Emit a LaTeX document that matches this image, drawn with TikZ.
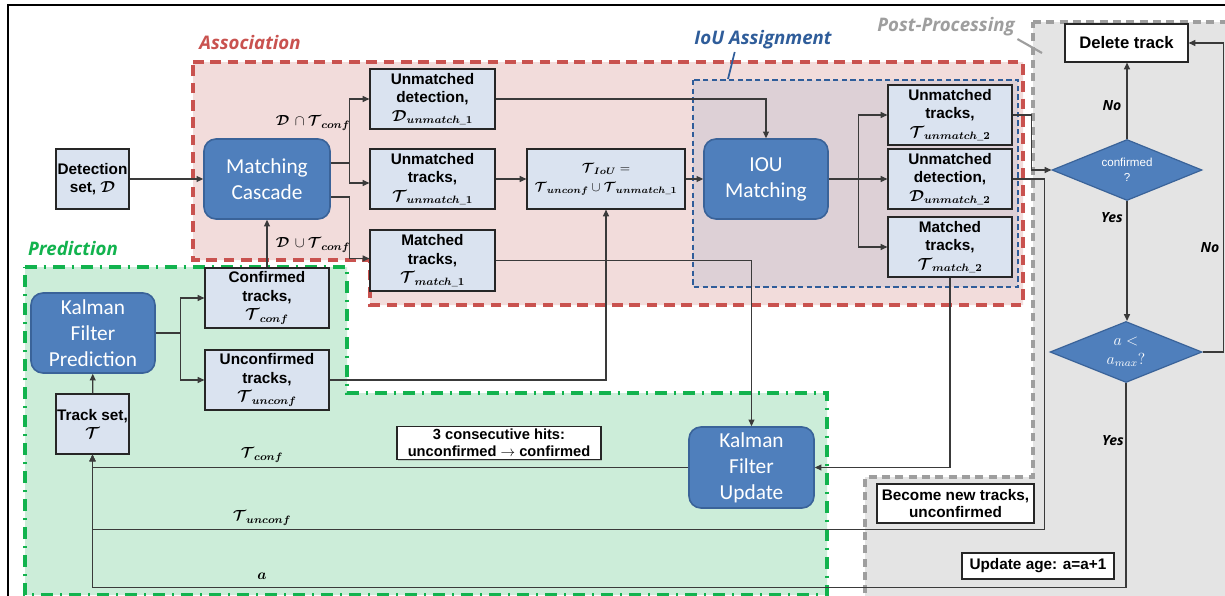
\documentclass[tikz,border=0pt]{standalone}
\usepackage{fontspec}
\setmainfont{Liberation Sans}
\newfontfamily\calib{Carlito}
\newfontfamily\osans{Open Sans}
\usepackage{amsmath,bm}
\usetikzlibrary{arrows.meta,calc,shapes.geometric,shadows}

\definecolor{linec}{HTML}{3A3A3A}
\definecolor{boxline}{HTML}{262626}
\definecolor{boxfill}{HTML}{DAE3F0}
\definecolor{procfill}{HTML}{4F7FBC}
\definecolor{procline}{HTML}{3A6399}
\definecolor{assocfill}{HTML}{F2DCDB}
\definecolor{assocline}{HTML}{C9524F}
\definecolor{ioufill}{HTML}{DDD0D6}
\definecolor{iouline}{HTML}{2F5D9A}
\definecolor{predfill}{HTML}{CCEDD9}
\definecolor{predline}{HTML}{12B34E}
\definecolor{postfill}{HTML}{E4E4E4}
\definecolor{postline}{HTML}{9E9E9E}

\newcommand{\Tc}{\bm{\mathcal{T}}}
\newcommand{\Dc}{\bm{\mathcal{D}}}
\newcommand{\bsub}[1]{\bm{#1}}

\tikzset{
  ln/.style={draw=linec, line width=0.9pt},
  arr/.style={ln, -{Triangle[length=5pt,width=4.5pt]}},
  shade/.style={drop shadow={shadow xshift=1pt,shadow yshift=-1pt,opacity=0.35}},
  databox/.style={draw=boxline, line width=0.9pt, fill=boxfill, align=center,
    inner sep=0pt, shade, font={\fontsize{11.5}{14}\selectfont\bfseries}},
  notebox/.style={databox, fill=white},
  procnode/.style={draw=procline, line width=1.2pt, fill=procfill, rounded corners=9pt,
    text=white, align=center, inner sep=0pt, font={\calib\fontsize{16}{19.5}\selectfont}},
  decision/.style={diamond, aspect=2.46, draw=procline, line width=0.9pt, fill=procfill,
    text=white, align=center, inner sep=0pt},
  reglabel/.style={font={\osans\bfseries\itshape\fontsize{14}{16}\selectfont}},
  branchlabel/.style={font={\osans\bfseries\itshape\fontsize{10.5}{12}\selectfont}},
  mathlabel/.style={font={\fontsize{11}{13}\selectfont}},
}

\begin{document}
\begin{tikzpicture}[x=0.75pt,y=-0.75pt]
\useasboundingbox (0,0) rectangle (1225,596);
\fill[white] (0,0) rectangle (1225,596);

% ---- grouping regions ----
\path[fill=postfill, draw=postline, line width=2.5pt, dash pattern=on 6pt off 4pt]
  (1033,22) -- (1240,22) -- (1240,610) -- (865,610) -- (865,477) -- (1033,477) -- cycle;
\path[fill=assocfill, draw=assocline, line width=3pt, dash pattern=on 8pt off 5pt]
  (193,62) -- (1023,62) -- (1023,305) -- (370,305) -- (370,260) -- (193,260) -- cycle;
\path[fill=ioufill, draw=iouline, line width=1.6pt, dash pattern=on 4pt off 2.5pt]
  (693,80) rectangle (1018,287);
\path[fill=predfill, draw=predline, line width=2.5pt, dash pattern=on 9pt off 5pt on 2pt off 5pt]
  (25,267) -- (347,267) -- (347,393) -- (827,393) -- (827,595) -- (25,595) -- cycle;

% outer frame
\draw[black, line width=1.6pt] (8,610) -- (8,5) -- (1240,5);

% region titles
\node[reglabel, text=assocline] (tassoc) at (250,43) {Association};
\node[reglabel, text=predline] (tpred) at (73,248) {Prediction};
\node[reglabel, text=iouline] (tiouA) at (763,40) {IoU Assignment};
\node[reglabel, text=postline] (tpost) at (946,27) {Post-Processing};
\coordinate (iouhook) at (728,79);
\coordinate (posthook) at (1042,53);
\draw[iouline, line width=1.3pt] ($(tiouA.south west)+(45,-2)$) -- (iouhook);
\draw[postline, line width=1.6pt] ($(tpost.south east)+(-2,-2)$) -- (posthook);

% ---- nodes ----
\node[databox, minimum width=54.75pt, minimum height=45pt] (det) at (92.5,179)
  {Detection\\set, $\Dc$};
\node[procnode, minimum width=94.5pt, minimum height=60pt] (mc) at (267,179)
  {Matching\\Cascade};
\node[databox, minimum width=93.75pt, minimum height=45pt] (ud1) at (432.5,99)
  {Unmatched\\detection,\\$\Dc_{\bsub{unmatch}\_\bsub{1}}$};
\node[databox, minimum width=93.75pt, minimum height=45pt] (ut1) at (432.5,179)
  {Unmatched\\tracks,\\$\Tc_{\bsub{unmatch}\_\bsub{1}}$};
\node[databox, minimum width=93.75pt, minimum height=45.75pt] (mt1) at (432.5,260.5)
  {Matched\\tracks,\\$\Tc_{\bsub{match}\_\bsub{1}}$};
\node[databox, minimum width=118.5pt, minimum height=45pt,
  font={\fontsize{10}{14}\selectfont\bfseries}] (tiou) at (606,179)
  {$\Tc_{\bsub{IoU}}=$\\$\Tc_{\bsub{unconf}}\cup\Tc_{\bsub{unmatch}\_\bsub{1}}$};
\node[procnode, minimum width=93pt, minimum height=60pt] (iou) at (766,179)
  {IOU\\Matching};
\node[databox, minimum width=93pt, minimum height=45pt] (ut2) at (950,115)
  {Unmatched\\tracks,\\$\Tc_{\bsub{unmatch}\_\bsub{2}}$};
\node[databox, minimum width=93pt, minimum height=45pt] (ud2) at (950,179)
  {Unmatched\\detection,\\$\Dc_{\bsub{unmatch}\_\bsub{2}}$};
\node[databox, minimum width=93pt, minimum height=45pt] (mt2) at (950,247)
  {Matched\\tracks,\\$\Tc_{\bsub{match}\_\bsub{2}}$};
\node[notebox, minimum width=92.25pt, minimum height=28.5pt,
  font={\fontsize{12.5}{14}\selectfont\bfseries}] (del) at (1126.5,43) {Delete track};
\node[decision, minimum width=112.5pt, minimum height=45.75pt,
  font={\fontsize{8.7}{11}\selectfont}] (conf) at (1127,170) {confirmed\\?};
\node[decision, minimum width=114pt, minimum height=45.75pt,
  font={\fontsize{12}{14}\selectfont}] (amax) at (1126,352) {$a<$\\$a_{max}?$};
\node[databox, minimum width=93pt, minimum height=45pt] (conftr) at (267,298)
  {Confirmed\\tracks,\\$\Tc_{\bsub{conf}}$};
\node[databox, minimum width=93pt, minimum height=45pt] (unconftr) at (267,380)
  {Unconfirmed\\tracks,\\$\Tc_{\bsub{unconf}}$};
\node[procnode, minimum width=93pt, minimum height=60pt] (kfp) at (93,333)
  {Kalman\\Filter\\Prediction};
\node[databox, minimum width=54.75pt, minimum height=45pt] (ts) at (92.5,424)
  {Track set,\\$\Tc$};
\node[notebox, minimum width=153pt, minimum height=24.75pt,
  font={\fontsize{11}{13}\selectfont\bfseries}] (hits) at (499,443)
  {3 consecutive hits:\\unconfirmed $\rightarrow$ confirmed};
\node[procnode, minimum width=93.75pt, minimum height=60.75pt] (kfu) at (751.5,467.5)
  {Kalman\\Filter\\Update};
\node[notebox, minimum width=117.75pt, minimum height=29.25pt,
  font={\fontsize{11.5}{13}\selectfont\bfseries}] (newtr) at (955.5,503.5)
  {Become new tracks,\\unconfirmed};
\node[notebox, minimum width=114pt, minimum height=19.5pt] (age) at (1038,566)
  {Update age: a=a+1};

% ---- connectors ----
\draw[arr] (det) -- (mc);
\draw[arr] ($(mc.east)+(0,-16)$) -- ++(19,0) |- (ud1.west);
\draw[arr] ($(mc.east)+(19,-16)$) |- ($(ut1.west)+(0,4)$);
\draw[arr] ($(mc.east)+(0,18)$) -- ++(19,0) |- ($(mt1.west)+(0,-2)$);
\draw[arr] (conftr) -- (mc);
\draw[arr] (kfp.east) -- ++(25,0) |- (conftr.west);
\draw[arr] ($(kfp.east)+(25,0)$) |- (unconftr.west);
\draw[arr] (ts) -- (kfp);
\draw[arr] (unconftr.east) -| (tiou.south);
\draw[arr] (ut1) -- (tiou);
\draw[arr] (ud1.east) -| (iou.north);
\draw[arr] (tiou) -- (iou);
\draw[arr] (mt1.east) -| (kfu.north);
\draw[arr] (iou.east) -- ++(30,0) |- (ut2.west);
\draw[arr] (iou) -- (ud2);
\draw[arr] ($(iou.east)+(30,0)$) |- (mt2.west);
\draw[arr] (ut2.east) -- ++(19,0) |- (conf.west);
\draw[arr] (mt2.south) |- (kfu.east);
\draw[arr] (kfu.west) -- (kfu.west -| ts.south) -- (ts.south);
\draw[arr] (ud2.east) -- ++(32,0) |- ($(ts.south)+(0,75)$) -- (ts.south);
\draw[arr] (amax.south) |- ($(ts.south)+(0,133)$) -- (ts.south);
\draw[arr] (conf.north) -- (conf.north |- del.south);
\draw[arr] (conf.south) -- (conf.south |- amax.north);
\draw[arr] (amax.east) -- ++(21,0) |- (del.east);

% ---- edge labels ----
\node[mathlabel] (lcap) at (313,123) {$\Dc\,\cap\Tc_{\bsub{conf}}$};
\node[mathlabel] (lcup) at (313,245) {$\Dc\,\cup\Tc_{\bsub{conf}}$};
\node[mathlabel] (lconf) at (262,455) {$\Tc_{\bsub{conf}}$};
\node[mathlabel] (lunconf) at (262,518) {$\Tc_{\bsub{unconf}}$};
\node[mathlabel] (lage) at (262,576) {$\bm{a}$};
\node[branchlabel] (lno1) at (1112,106) {No};
\node[branchlabel] (lyes1) at (1112,218) {Yes};
\node[branchlabel] (lno2) at (1210,248) {No};
\node[branchlabel] (lyes2) at (1113,441) {Yes};
\end{tikzpicture}
\end{document}
